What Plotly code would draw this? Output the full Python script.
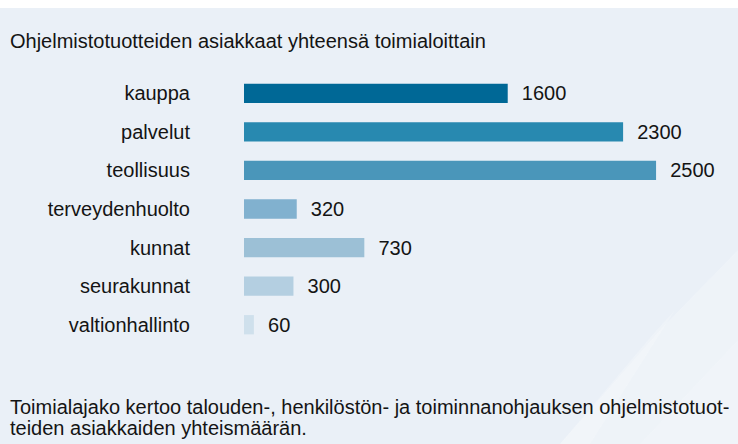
import plotly.graph_objects as go

categories = ["kauppa", "palvelut", "teollisuus", "terveydenhuolto", "kunnat", "seurakunnat", "valtionhallinto"]
values = [1600, 2300, 2500, 320, 730, 300, 60]
colors = ["#006896", "#2889b0", "#4a96ba", "#81b1cf", "#9cc0d6", "#b4cfe1", "#cfe0ec"]

title_text = "Ohjelmistotuotteiden asiakkaat yhteensä toimialoittain"
footer_1 = "Toimialajako kertoo talouden-, henkilöstön- ja toiminnanohjauksen ohjelmistotuot-"
footer_2 = "teiden asiakkaiden yhteismäärän."

W, H = 738, 444
ML, MR, MT, MB = 244, 16, 74, 100
PW, PH = W - ML - MR, H - MT - MB

def px(x):
    return (x - ML) / PW

def py(y):
    return (H - MB - y) / PH

FONT = "Liberation Sans, Arial, Helvetica, sans-serif"
TXT = "#141414"

fig = go.Figure()
fig.add_trace(go.Bar(
    y=categories, x=values, orientation="h",
    marker=dict(color=colors, line=dict(width=0)),
    text=["\u00a0\u00a0" + str(v) for v in values],
    textposition="outside", cliponaxis=False, constraintext="none",
    textfont=dict(family=FONT, size=20, color=TXT),
    hoverinfo="skip",
))

shapes = [
    dict(type="rect", xref="paper", yref="paper", x0=px(0), x1=px(W), y0=py(8), y1=py(H),
         fillcolor="#eaf0f7", line=dict(width=0), layer="below"),
    dict(type="path", xref="paper", yref="paper", layer="below",
         path=f"M {px(560)} {py(H)} L {px(660)} {py(330)} L {px(W)} {py(250)} L {px(W)} {py(H)} Z",
         fillcolor="rgba(255,255,255,0.22)", line=dict(width=0)),
    dict(type="path", xref="paper", yref="paper", layer="below",
         path=f"M {px(560)} {py(H)} L {px(655)} {py(332)} L {px(675)} {py(310)} L {px(590)} {py(H)} Z",
         fillcolor="rgba(255,255,255,0.2)", line=dict(width=0)),
    dict(type="path", xref="paper", yref="paper", layer="below",
         path=f"M {px(640)} {py(H)} L {px(738)} {py(340)} L {px(738)} {py(H)} Z",
         fillcolor="rgba(255,255,255,0.15)", line=dict(width=0)),
]

annotations = [
    dict(text=title_text, xref="paper", yref="paper", x=px(8), y=py(41), xanchor="left", yanchor="middle",
         showarrow=False, font=dict(family=FONT, size=20, color=TXT)),
    dict(text=footer_1, xref="paper", yref="paper", x=px(8), y=py(407), xanchor="left", yanchor="middle",
         showarrow=False, font=dict(family=FONT, size=20, color=TXT)),
    dict(text=footer_2, xref="paper", yref="paper", x=px(8), y=py(428), xanchor="left", yanchor="middle",
         showarrow=False, font=dict(family=FONT, size=20, color=TXT)),
]

fig.update_layout(
    width=W, height=H,
    margin=dict(l=ML, r=MR, t=MT, b=MB, pad=0),
    paper_bgcolor="white", plot_bgcolor="rgba(0,0,0,0)",
    showlegend=False, bargap=0.5,
    xaxis=dict(visible=False, range=[0, 2900], fixedrange=True),
    yaxis=dict(autorange="reversed", showgrid=False, zeroline=False, showline=False,
               ticks="", ticklabelstandoff=53,
               tickfont=dict(family=FONT, size=20, color=TXT), fixedrange=True),
    shapes=shapes, annotations=annotations,
)

fig.write_html("out.html", config={"displayModeBar": False})
